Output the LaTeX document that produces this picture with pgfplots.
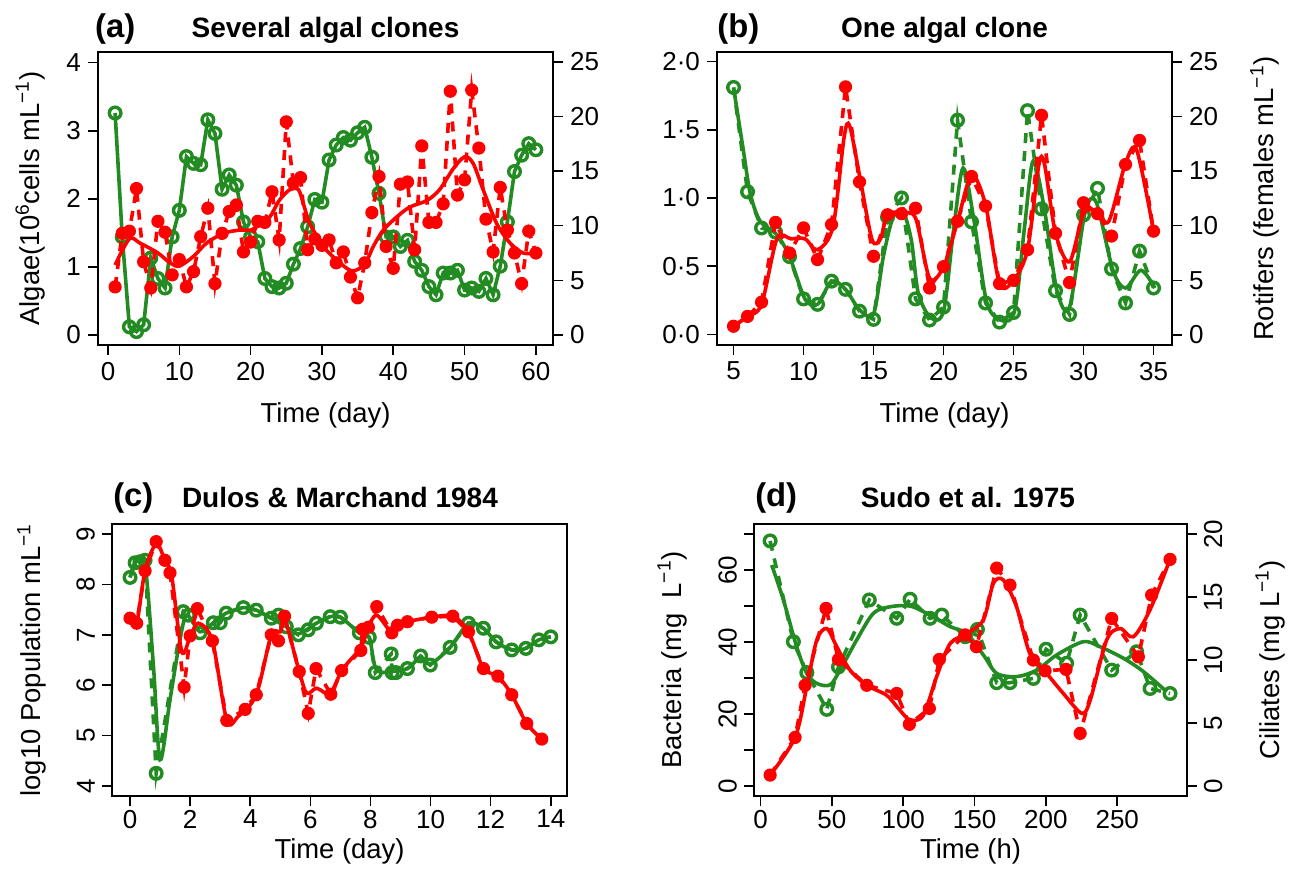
\documentclass[border=0pt]{standalone}
\usepackage{fontspec}
\setmainfont{Liberation Sans}
\usepackage{pgfplots}
\pgfplotsset{compat=1.18}
\definecolor{gg}{RGB}{34,139,34}
\definecolor{rr}{RGB}{255,0,0}
\pgfplotsset{
 common/.style={scale only axis, anchor=north west, clip mode=individual,
   axis line style={line width=0.9pt}, every tick/.style={black,line width=0.8pt},
   tick align=outside, major tick length=5pt,
   tick label style={font=\fontsize{13}{15}\selectfont},
   /pgf/number format/assume math mode=true,
   label style={font=\fontsize{13.7}{16}\selectfont}},
 base/.style={common, xtick pos=left, ytick pos=left},
 second/.style={common, axis x line=none, axis y line*=right, ytick pos=right},
 gpts/.style={gg, line width=1.8pt, dash pattern=on 5pt off 4pt, mark=o, mark size=2.9pt, mark options={solid, line width=1.7pt}},
 gsol/.style={gg, line width=1.8pt, mark=o, mark size=2.9pt, mark options={solid, line width=1.7pt}},
 gcur/.style={gg, line width=1.8pt, smooth, tension=0.5, no marks},
 rpts/.style={rr, line width=1.8pt, dash pattern=on 5pt off 4pt, mark=*, mark size=3.0pt, mark options={solid, line width=0.6pt}},
 rcur/.style={rr, line width=1.8pt, smooth, tension=0.5, no marks},
}
\tikzset{tag/.style={font=\bfseries\fontsize{16.4}{18}\selectfont, anchor=base west, inner sep=0pt},
 ttl/.style={font=\bfseries\fontsize{14}{16}\selectfont, anchor=base, inner sep=0pt}}
\begin{document}
\begin{tikzpicture}
\path[use as bounding box] (0,0) rectangle (646.5pt,-443pt);
% ---------------- (a)
\begin{axis}[base, at={(49pt,-26pt)}, width=227.5pt, height=146.5pt,
  xmin=-1.4, xmax=62.4, ymin=-0.147, ymax=4.156,
  xtick={0,10,...,60}, ytick={0,1,2,3,4},
  xlabel={Time (day)}, xlabel style={at={(axis description cs:0.5,-0.239)}, anchor=center},
  ylabel={Algae(10\textsuperscript{6}cells mL\textsuperscript{−1})},
  ylabel style={at={(axis description cs:-0.149,0.5)}, anchor=center}]
\addplot[gsol] coordinates {(1,3.26)(2,1.44)(3,0.12)(4,0.05)(5,0.15)(6,1.13)(7,0.83)(8,0.69)(9,1.44)(10,1.83)(11,2.62)(12,2.52)(13,2.50)(14,3.16)(15,2.96)(16,2.14)(17,2.35)(18,2.20)(19,1.66)(20,1.44)(21,1.37)(22,0.83)(23,0.71)(24,0.69)(25,0.76)(26,1.04)(27,1.27)(28,1.59)(29,1.99)(30,1.95)(31,2.57)(32,2.79)(33,2.90)(34,2.86)(35,2.97)(36,3.05)(37,2.61)(38,2.08)(39,1.44)(40,1.44)(41,1.30)(42,1.39)(43,1.08)(44,0.95)(45,0.71)(46,0.59)(47,0.91)(48,0.91)(49,0.95)(50,0.66)(51,0.69)(52,0.64)(53,0.83)(54,0.59)(55,1.01)(56,1.66)(57,2.40)(58,2.64)(59,2.81)(60,2.72)};
\node[tag] at (axis description cs:-0.007,1.051) {(a)};
\node[ttl] at (axis description cs:0.5,1.051) {Several algal clones};
\end{axis}
\begin{axis}[second, at={(49pt,-26pt)}, width=227.5pt, height=146.5pt,
  xmin=-1.4, xmax=62.4, ymin=-0.915, ymax=25.89, ytick={0,5,...,25}]
\addplot[rpts] coordinates {(1,4.4)(2,9.3)(3,9.5)(4,13.4)(5,6.7)(6,4.3)(7,10.4)(8,9.4)(9,5.5)(10,6.9)(11,4.4)(12,5.8)(13,9.0)(14,11.6)(15,4.7)(16,9.3)(17,11.3)(18,11.9)(19,7.6)(20,8.5)(21,10.4)(22,10.3)(23,13.1)(24,8.7)(25,19.5)(26,13.9)(27,14.4)(28,7.8)(29,8.8)(30,8.2)(31,8.7)(32,6.6)(33,7.6)(34,5.3)(35,3.4)(36,6.6)(37,11.2)(38,14.5)(39,8.1)(40,6.1)(41,13.8)(42,14.0)(43,7.8)(44,17.3)(45,10.3)(46,10.3)(47,12.0)(48,22.3)(49,12.8)(50,14.2)(51,22.4)(52,17.1)(53,10.6)(54,7.6)(55,13.5)(56,9.6)(57,7.5)(58,4.7)(59,9.5)(60,7.5)};
\addplot[rcur] coordinates {(1,6.4)(3,8.8)(4.5,8.4)(7,7.5)(8.7,6.6)(10,6.3)(12,7.2)(13.8,8.4)(16.2,9.3)(18.5,9.6)(20,9.6)(21.3,10.1)(22.7,10.8)(24,12.3)(25.5,13.3)(26.7,13.3)(27.4,12.0)(28.3,10.2)(30.2,8.1)(32,6.9)(34,5.9)(35.3,6.1)(36.3,6.8)(37.2,8.1)(38.6,9.6)(40.5,10.8)(42.3,11.7)(44.7,12.3)(46.5,13.3)(48.4,15.2)(50,16.3)(51.2,15.7)(52.6,13.3)(54.5,10.2)(56.4,8.4)(58.2,7.5)(60,7.5)};
\end{axis}
% ---------------- (b)
\begin{axis}[base, at={(358.5pt,-26pt)}, width=227.5pt, height=146.5pt,
  xmin=3.82, xmax=36.32, ymin=-0.078, ymax=2.07,
  xtick={5,10,...,35}, ytick={0,0.5,1,1.5,2}, yticklabels={0·0,0·5,1·0,1·5,2·0},
  xlabel={Time (day)}, xlabel style={at={(axis description cs:0.5,-0.239)}, anchor=center}]
\addplot[gpts] coordinates {(5,1.81)(6,1.045)(7,0.78)(8,0.75)(9,0.57)(10,0.26)(11,0.22)(12,0.39)(13,0.33)(14,0.17)(15,0.11)(16,0.86)(17,1.0)(18,0.26)(19,0.105)(20,0.20)(21,1.57)(22,0.825)(23,0.23)(24,0.09)(25,0.16)(26,1.64)(27,0.92)(28,0.32)(29,0.146)(30,0.875)(31,1.07)(32,0.48)(33,0.23)(34,0.61)(35,0.34)};
\addplot[gcur] coordinates {(5,1.81)(5.7,1.35)(6.2,1.03)(6.9,0.83)(8.1,0.73)(9,0.57)(10.1,0.26)(11,0.22)(12,0.39)(13,0.33)(14,0.18)(15,0.15)(15.7,0.57)(16.4,0.86)(17.1,0.9)(17.7,0.69)(18.2,0.30)(19.1,0.12)(20,0.17)(20.7,0.75)(21.4,1.22)(22.2,0.82)(23.1,0.23)(24.2,0.10)(25.1,0.18)(25.8,0.8)(26.4,1.27)(27.2,0.92)(28.1,0.32)(29,0.2)(30.1,0.89)(30.9,0.97)(32.1,0.47)(33,0.34)(34.1,0.47)(35.1,0.34)};
\node[tag] at (axis description cs:0.0,1.051) {(b)};
\node[ttl] at (axis description cs:0.5,1.051) {One algal clone};
\end{axis}
\begin{axis}[second, at={(358.5pt,-26pt)}, width=227.5pt, height=146.5pt,
  xmin=3.82, xmax=36.32, ymin=-0.915, ymax=25.89, ytick={0,5,...,25},
  ylabel={Rotifers (females mL\textsuperscript{−1})},
  ylabel style={at={(axis description cs:1.204,0.5)}, anchor=center}]
\addplot[rpts] coordinates {(5,0.8)(6,1.7)(7,3.0)(8,10.3)(9,7.5)(10,9.8)(11,6.9)(12,10.1)(13,22.7)(14,14.0)(15,7.2)(16,11.0)(17,11.1)(18,11.6)(19,4.3)(20,6.25)(21,10.4)(22,14.5)(23,11.8)(24,4.7)(25,5.0)(26,7.8)(27,20.1)(28,9.3)(29,4.8)(30,12.1)(31,11.1)(32,9.05)(33,15.6)(34,17.8)(35,9.5)};
\addplot[rcur] coordinates {(5,0.8)(6,1.7)(7,2.8)(8.1,8.8)(9.1,8.8)(10.1,8.8)(11,7.8)(12.1,9.9)(12.9,18.1)(13.3,19.1)(14.1,13.9)(14.9,8.7)(15.5,8.8)(16,11.1)(17,11.1)(18,10.7)(19,5.2)(20,6.25)(21,10.4)(22,14.6)(23,11.9)(24,4.7)(25,5.0)(26,7.8)(26.8,15.5)(27.2,15.7)(28,9.3)(29,6.7)(30,11.1)(31,11.3)(31.8,10.4)(33,15.7)(33.8,16.9)(35,9.5)};
\end{axis}
% ---------------- (c)
\begin{axis}[base, at={(56pt,-262pt)}, width=227.5pt, height=136pt,
  xmin=-0.6, xmax=14.54, ymin=3.8, ymax=9.2,
  xtick={0,2,...,14}, ytick={4,5,...,9},
  xticklabel style={yshift=1.5pt},
  yticklabel style={rotate=90, anchor=south},
  xlabel={Time (day)}, xlabel style={at={(axis description cs:0.5,-0.205)}, anchor=center},
  ylabel={log10 Population mL\textsuperscript{−1}},
  ylabel style={at={(axis description cs:-0.176,0.5)}, anchor=center}]
\addplot[gpts] coordinates {(0,8.14)(0.17,8.43)(0.33,8.45)(0.5,8.48)(0.87,4.25)(1.77,7.46)(1.94,7.39)(2.33,7.04)(2.77,7.24)(3.0,7.24)(3.2,7.43)(3.77,7.54)(4.2,7.49)(4.7,7.33)(4.94,7.39)(5.2,7.16)(5.6,7.0)(5.93,7.1)(6.2,7.23)(6.66,7.36)(7.0,7.35)(7.63,7.04)(7.96,6.95)(8.16,6.25)(8.69,6.62)(8.72,6.25)(8.85,6.25)(9.23,6.33)(9.67,6.58)(9.99,6.40)(10.65,6.75)(11.26,7.23)(11.76,7.13)(12.18,6.86)(12.7,6.70)(13.17,6.73)(13.6,6.90)(14.0,6.96)};
\addplot[gcur] coordinates {(0,8.14)(0.17,8.43)(0.5,8.38)(0.78,6.37)(1.0,4.52)(1.33,5.71)(1.66,6.90)(1.89,7.39)(2.33,7.06)(2.77,7.24)(3.2,7.43)(3.77,7.54)(4.2,7.49)(4.7,7.33)(5.2,7.16)(5.6,7.02)(6.2,7.23)(6.66,7.36)(7.0,7.35)(7.63,7.04)(7.96,6.95)(8.2,6.3)(8.8,6.28)(9.23,6.33)(9.67,6.55)(9.99,6.42)(10.65,6.75)(11.26,7.23)(11.76,7.13)(12.18,6.86)(12.7,6.70)(13.17,6.73)(13.6,6.90)(14.0,6.96)};
\addplot[rpts] coordinates {(0,7.33)(0.22,7.23)(0.5,8.27)(0.87,8.85)(1.16,8.48)(1.33,8.23)(1.8,5.96)(2.0,6.98)(2.24,7.52)(2.74,6.88)(3.22,5.30)(3.83,5.52)(4.2,5.81)(4.7,7.0)(4.94,6.88)(5.14,7.37)(5.63,6.27)(5.93,5.44)(6.19,6.33)(6.68,5.82)(7.04,6.29)(7.68,6.69)(7.74,7.11)(7.93,7.15)(8.21,7.56)(8.71,7.04)(8.9,7.19)(9.23,7.26)(10.04,7.35)(10.74,7.37)(11.26,7.06)(11.76,6.33)(12.24,6.18)(12.7,5.81)(13.2,5.24)(13.7,4.93)};
\addplot[rcur] coordinates {(0,7.33)(0.22,7.23)(0.5,8.27)(0.87,8.81)(1.16,8.48)(1.39,8.15)(1.72,6.67)(2.0,6.96)(2.27,7.23)(2.74,6.88)(3.22,5.30)(3.6,5.38)(4.2,5.81)(4.7,7.0)(5.0,7.06)(5.14,7.33)(5.63,6.27)(5.88,5.84)(6.21,5.94)(6.68,5.82)(7.04,6.29)(7.68,6.75)(7.93,7.15)(8.21,7.39)(8.71,7.04)(8.9,7.19)(9.23,7.26)(10.04,7.35)(10.74,7.37)(11.26,7.06)(11.76,6.33)(12.24,6.18)(12.7,5.81)(13.2,5.24)(13.7,4.93)};
\node[tag] at (axis description cs:0.002,1.066) {(c)};
\node[ttl] at (axis description cs:0.501,1.062) {Dulos \& Marchand 1984};
\end{axis}
% ---------------- (d)
\begin{axis}[base, at={(377pt,-262pt)}, width=216.5pt, height=136pt,
  xmin=-4.6, xmax=298.9, ymin=-2.78, ymax=72.8,
  xtick={0,50,...,250}, ytick={0,10,...,70}, yticklabels={0,,20,,40,,60,},
  xticklabel style={yshift=1.5pt},
  yticklabel style={rotate=90, anchor=south},
  xlabel={Time (h)}, xlabel style={at={(axis description cs:0.5,-0.205)}, anchor=center},
  ylabel={Bacteria (mg\ \ L\textsuperscript{−1})},
  ylabel style={at={(axis description cs:-0.189,0.5)}, anchor=center}]
\addplot[gpts] coordinates {(6.7,68.1)(23,40.1)(32.4,31.5)(46.4,21.3)(54.6,33.1)(76.2,51.7)(95.4,46.6)(104.8,51.9)(118.8,46.6)(127,47.5)(143.5,41.5)(152,43.5)(165.5,28.7)(174.8,28.7)(191.2,29.9)(200.1,38.0)(214.5,34.1)(224,47.5)(246.1,32.2)(263.6,37.3)(273,27.1)(287,25.7)};
\addplot[gcur] coordinates {(7.8,61.4)(16,51.7)(25.3,38.7)(32.4,31.3)(39.4,28.5)(48.7,28.1)(55.7,32.2)(67.4,40.6)(79.1,48.0)(90.8,49.8)(104.8,50.0)(118.8,47.5)(132.8,44.3)(144.5,42.4)(156.2,36.4)(165.5,31.3)(179.5,30.4)(193.5,32.2)(207.5,36.4)(226.2,40.1)(237.9,38.7)(254.3,35.5)(268.3,31.8)(284.7,26.2)};
\node[tag] at (axis description cs:0.002,1.066) {(d)};
\node[ttl] at (axis description cs:0.494,1.062) {Sudo et al. 1975};
\end{axis}
\begin{axis}[second, at={(377pt,-262pt)}, width=216.5pt, height=136pt,
  xmin=-4.6, xmax=298.9, ymin=-0.79, ymax=20.8, ytick={0,5,...,20},
  yticklabel style={rotate=90, anchor=north},
  ylabel={Ciliates (mg L\textsuperscript{−1})},
  ylabel style={at={(axis description cs:1.192,0.5)}, anchor=center}]
\addplot[rpts] coordinates {(6.7,0.87)(24.2,3.86)(31.2,8.0)(45.9,14.1)(54.6,10.05)(74.4,8.0)(95.4,7.35)(104.3,4.9)(118.3,6.16)(125.3,10.05)(143.3,12.0)(151.3,11.06)(165.5,17.3)(174.8,15.95)(191.2,10.0)(199.4,9.15)(214.1,9.26)(224,4.18)(246.1,13.3)(264.8,10.26)(274.1,15.16)(287,17.99)};
\addplot[rcur] coordinates {(6.7,0.87)(24.2,3.86)(32.4,7.9)(39.4,11.6)(46.4,12.5)(53.4,11.06)(62.7,9.2)(74.4,8.0)(88.4,7.2)(97.8,6.0)(104.8,5.24)(114,5.6)(123.4,8.68)(132.8,11.3)(144.5,12.1)(156.2,13.2)(163.2,16.1)(170.2,16.35)(179.5,14.2)(188.8,10.5)(200.5,8.94)(212.2,7.35)(225.1,5.77)(231,6.8)(242.6,11.6)(252,12.5)(261.3,11.85)(273,14.0)(287,18.0)};
\end{axis}
\end{tikzpicture}
\end{document}
